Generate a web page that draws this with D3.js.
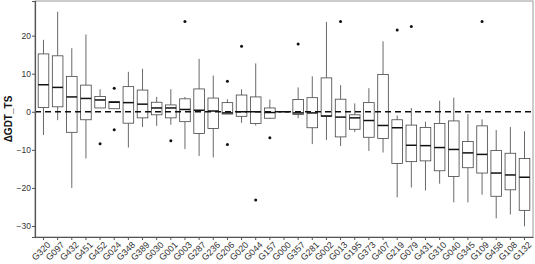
<!DOCTYPE html>
<html>
<head>
<meta charset="utf-8">
<script src="https://cdn.jsdelivr.net/npm/d3@7"></script>
<style>
  body { margin: 0; background: #fff; }
  text { font-family: "Liberation Sans", Arial, sans-serif; }
</style>
</head>
<body>
<div id="chart"></div>
<script>
// targets, ordered by median
const targets = ['G320', 'G097', 'G432', 'G451', 'G452', 'G024', 'G348', 'G389', 'G030', 'G001',
  'G003', 'G287', 'G236', 'G206', 'G020', 'G044', 'G157', 'G000', 'G357', 'G281',
  'G002', 'G013', 'G195', 'G373', 'G407', 'G219', 'G079', 'G431', 'G310', 'G040',
  'G345', 'G109', 'G458', 'G108', 'G132'];

const whiskerLow = [-6.1, -2.2, -20.0, -12.3, 1.0, 0.8, -9.4, -4.0, -3.7, -3.4,
  -9.8, -11.6, -12.0, -0.6, -2.9, -3.6, -1.9, 0, -1.7, -8.5,
  -7.4, -9.0, -5.3, -10.3, -10.7, -22.5, -19.9, -20.7, -18.9, -23.8,
  -23.8, -21.8, -28.0, -27.0, -30.1];
const q1 = [1.1, 1.3, -5.4, -2.1, 1.0, 0.8, -3.0, -1.6, -0.8, -1.6,
  -2.6, -5.7, -4.4, -0.6, -1.2, -3.1, -1.7, 0, -0.7, -4.2,
  -1.2, -6.6, -4.6, -6.7, -7.0, -13.6, -13.1, -12.9, -15.5, -17.0,
  -14.7, -16.1, -22.2, -20.5, -25.9];
const medians = [7.1, 6.4, 3.9, 3.5, 3.1, 2.5, 2.4, 2.0, 1.0, 1.0,
  0.6, 0.4, 0.2, -0.3, 0, 0, -0.2, 0, -0.3, -0.3,
  -1.1, -1.4, -1.6, -2.3, -3.6, -4.2, -8.8, -8.9, -9.4, -9.9,
  -10.8, -11.2, -16.1, -16.6, -17.2];
const q3 = [15.2, 14.7, 9.3, 7.0, 4.0, 2.7, 6.6, 5.7, 2.5, 1.8,
  3.4, 6.0, 3.6, 2.4, 4.4, 3.9, 1.0, 0, 3.2, 3.7,
  8.9, 3.3, -0.8, 2.4, 9.8, -2.1, -3.5, -4.1, -3.1, -2.4,
  -7.8, -3.7, -10.2, -10.9, -12.3];
const whiskerHigh = [18.9, 26.3, 16.7, 20.3, 5.9, 2.8, 10.5, 11.3, 3.9, 5.9,
  3.9, 13.9, 9.5, 3.3, 5.9, 12.7, 3.2, 0, 6.4, 9.3,
  23.6, 7.0, 2.2, 6.2, 18.5, -1.0, 1.0, -2.6, 2.9, 3.7,
  -0.6, -2.0, -4.8, -4.0, -5.1];

// outlying points: [target, value]
const outliers = [
  ['G452', -8.4], ['G024', 6.2], ['G024', -4.7], ['G001', -7.6], ['G003', 23.7],
  ['G206', 8.0], ['G206', -8.6], ['G020', 17.2], ['G044', -23.2], ['G157', -6.8],
  ['G357', 17.8], ['G013', 23.7], ['G219', 21.5], ['G079', 22.4], ['G109', 23.7]
];

const yTicks = [20, 10, 0, -10, -20, -30];

const width = 535, height = 264;
const margin = { top: 1, right: 2, bottom: 27, left: 35 };

const svg = d3.select('#chart')
  .append('svg')
  .attr('width', width)
  .attr('height', height);

const x = d3.scaleBand()
  .domain(targets)
  .range([margin.left, width - margin.right])
  .paddingOuter(0.1)
  .paddingInner(0);

const y = d3.scaleLinear()
  .domain([-32.9, 29.1])
  .range([height - margin.bottom, margin.top]);

const boxW = x.bandwidth() * 0.75;
const data = targets.map((t, i) => ({
  t, lo: whiskerLow[i], q1: q1[i], med: medians[i], q3: q3[i], hi: whiskerHigh[i]
}));

// panel border
svg.append('rect')
  .attr('x', margin.left)
  .attr('y', margin.top)
  .attr('width', width - margin.left - margin.right)
  .attr('height', height - margin.top - margin.bottom)
  .attr('fill', 'none')
  .attr('stroke', '#9a9a9a')
  .attr('stroke-width', 1);

const g = svg.append('g');
const cx = d => x(d.t) + x.bandwidth() / 2;

// whiskers
g.selectAll('.whisker-hi')
  .data(data)
  .enter()
  .append('line')
  .attr('x1', cx).attr('x2', cx)
  .attr('y1', d => y(d.q3)).attr('y2', d => y(d.hi))
  .attr('stroke', '#444').attr('stroke-width', 0.8);

g.selectAll('.whisker-lo')
  .data(data)
  .enter()
  .append('line')
  .attr('x1', cx).attr('x2', cx)
  .attr('y1', d => y(d.q1)).attr('y2', d => y(d.lo))
  .attr('stroke', '#444').attr('stroke-width', 0.8);

// boxes
g.selectAll('.box')
  .data(data)
  .enter()
  .append('rect')
  .attr('x', d => cx(d) - boxW / 2)
  .attr('width', boxW)
  .attr('y', d => y(d.q3))
  .attr('height', d => Math.max(0.01, y(d.q1) - y(d.q3)))
  .attr('fill', '#fff')
  .attr('stroke', '#444')
  .attr('stroke-width', 0.8);

// medians
g.selectAll('.median')
  .data(data)
  .enter()
  .append('line')
  .attr('x1', d => cx(d) - boxW / 2).attr('x2', d => cx(d) + boxW / 2)
  .attr('y1', d => y(d.med)).attr('y2', d => y(d.med))
  .attr('stroke', '#111').attr('stroke-width', 1.5);

// outliers
g.selectAll('.outlier')
  .data(outliers)
  .enter()
  .append('circle')
  .attr('cx', d => x(d[0]) + x.bandwidth() / 2)
  .attr('cy', d => y(d[1]))
  .attr('r', 1.5)
  .attr('fill', '#111');

// zero reference line
svg.append('line')
  .attr('x1', margin.left).attr('x2', width - margin.right)
  .attr('y1', y(0)).attr('y2', y(0))
  .attr('stroke', '#111')
  .attr('stroke-width', 1.4)
  .attr('stroke-dasharray', '6,4');

// axes
const yAxis = svg.append('g')
  .attr('transform', `translate(${margin.left},0)`)
  .call(d3.axisLeft(y).tickValues(yTicks).tickSize(3).tickFormat(d => d < 0 ? '\u2212' + Math.abs(d) : d));
yAxis.select('.domain').attr('stroke', '#555').attr('stroke-width', 1.2);
yAxis.selectAll('.tick line').attr('stroke', '#555');
yAxis.selectAll('.tick text')
  .attr('fill', '#333')
  .style('font-size', '8.5px')
  .attr('x', -4);

const xAxis = svg.append('g')
  .attr('transform', `translate(0,${height - margin.bottom})`)
  .call(d3.axisBottom(x).tickSize(3).tickSizeOuter(0));
xAxis.select('.domain').attr('stroke', '#555').attr('stroke-width', 1.2);
xAxis.selectAll('.tick line').attr('stroke', '#555');
xAxis.selectAll('.tick text')
  .attr('fill', '#333')
  .style('font-size', '9px')
  .attr('text-anchor', 'end')
  .attr('dy', 0)
  .attr('y', 0)
  .attr('transform', 'translate(3,4) rotate(-45)')
  .attr('dominant-baseline', 'hanging');

// y title
svg.append('text')
  .attr('transform', `translate(12,${(margin.top + height - margin.bottom) / 2}) rotate(-90)`)
  .attr('text-anchor', 'middle')
  .style('font-size', '10px')
  .style('font-weight', 'bold')
  .attr('fill', '#111')
  .text('\u0394GDT_TS');
</script>
</body>
</html>
